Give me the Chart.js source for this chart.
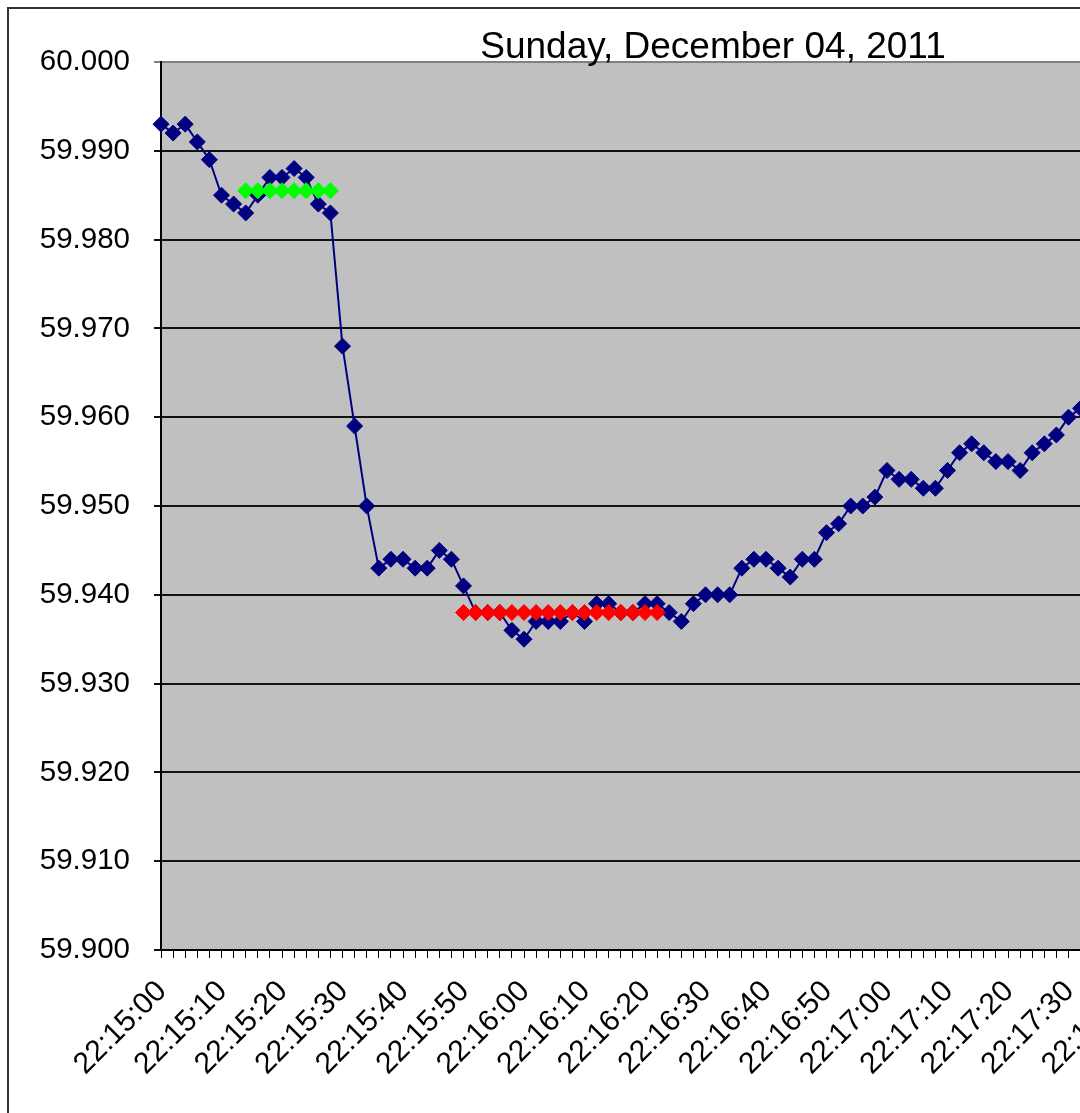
<!DOCTYPE html>
<html>
<head>
<meta charset="utf-8">
<script src="https://cdn.jsdelivr.net/npm/chart.js@4.4.0/dist/chart.umd.min.js"></script>
<style>
html,body{margin:0;padding:0;background:#fff;overflow:hidden;width:1080px;height:1113px;position:relative;}
#frame{position:absolute;left:7px;top:7px;width:1300px;height:1300px;border-left:2px solid #333;border-top:2px solid #333;}
#c{position:absolute;left:0;top:0;}
#title{position:absolute;left:0;width:1426px;top:27px;line-height:37px;text-align:center;font-family:"Liberation Sans",Arial,sans-serif;font-size:37px;color:#000;white-space:nowrap;}
</style>
</head>
<body>
<div id="frame"></div>
<canvas id="c" width="1138" height="1113"></canvas>
<div id="title">Sunday, December 04, 2011</div>
<script>
// Time labels (every 2 seconds)
const timeLabels = [
 "22:15:00","22:15:02","22:15:04","22:15:06","22:15:08","22:15:10","22:15:12","22:15:14","22:15:16","22:15:18",
 "22:15:20","22:15:22","22:15:24","22:15:26","22:15:28","22:15:30","22:15:32","22:15:34","22:15:36","22:15:38",
 "22:15:40","22:15:42","22:15:44","22:15:46","22:15:48","22:15:50","22:15:52","22:15:54","22:15:56","22:15:58",
 "22:16:00","22:16:02","22:16:04","22:16:06","22:16:08","22:16:10","22:16:12","22:16:14","22:16:16","22:16:18",
 "22:16:20","22:16:22","22:16:24","22:16:26","22:16:28","22:16:30","22:16:32","22:16:34","22:16:36","22:16:38",
 "22:16:40","22:16:42","22:16:44","22:16:46","22:16:48","22:16:50","22:16:52","22:16:54","22:16:56","22:16:58",
 "22:17:00","22:17:02","22:17:04","22:17:06","22:17:08","22:17:10","22:17:12","22:17:14","22:17:16","22:17:18",
 "22:17:20","22:17:22","22:17:24","22:17:26","22:17:28","22:17:30","22:17:32","22:17:34","22:17:36","22:17:38",
 "22:17:40"
];

// Measured frequency (Hz)
const frequency = [
 59.993, 59.992, 59.993, 59.991, 59.989, 59.985, 59.984, 59.983, 59.985, 59.987,
 59.987, 59.988, 59.987, 59.984, 59.983, 59.968, 59.959, 59.950, 59.943, 59.944,
 59.944, 59.943, 59.943, 59.945, 59.944, 59.941, 59.938, 59.938, 59.938, 59.936,
 59.935, 59.937, 59.937, 59.937, 59.938, 59.937, 59.939, 59.939, 59.938, 59.938,
 59.939, 59.939, 59.938, 59.937, 59.939, 59.940, 59.940, 59.940, 59.943, 59.944,
 59.944, 59.943, 59.942, 59.944, 59.944, 59.947, 59.948, 59.950, 59.950, 59.951,
 59.954, 59.953, 59.953, 59.952, 59.952, 59.954, 59.956, 59.957, 59.956, 59.955,
 59.955, 59.954, 59.956, 59.957, 59.958, 59.960, 59.961
];

// Pre-event average (Value A), indices 7..14
const valueAStart = 7, valueAEnd = 14;
const valueA = 59.9855;
// Post-event average (Value B), indices 25..41
const valueBStart = 25, valueBEnd = 41;
const valueB = 59.938;

// Y axis ticks
const yMin = 59.900, yMax = 60.000, yStep = 0.010;

const valueASeries = timeLabels.map((_, i) => (i >= valueAStart && i <= valueAEnd) ? valueA : null);
const valueBSeries = timeLabels.map((_, i) => (i >= valueBStart && i <= valueBEnd) ? valueB : null);

const plotBg = {
  id: 'plotBg',
  beforeDraw(chart) {
    const {ctx, chartArea: a} = chart;
    ctx.save();
    ctx.fillStyle = '#c0c0c0';
    ctx.fillRect(a.left, a.top, a.right - a.left, a.bottom - a.top);
    ctx.restore();
  }
};

const font = 'Liberation Sans, Arial, sans-serif';
const markerRadius = 8;

function series(label, data, color, order) {
  return {
    label, data, order,
    borderColor: color,
    backgroundColor: color,
    borderWidth: 2,
    tension: 0,
    pointStyle: 'rectRot',
    pointRadius: markerRadius,
    pointBorderWidth: 1,
    pointBackgroundColor: color,
    pointBorderColor: color,
    spanGaps: false,
    clip: false
  };
}

new Chart(document.getElementById('c'), {
  type: 'line',
  data: {
    labels: timeLabels,
    datasets: [
      series('Value A', valueASeries, '#00ff00', 1),
      series('Value B', valueBSeries, '#ff0000', 1),
      series('Frequency', frequency, '#000080', 2)
    ]
  },
  options: {
    responsive: false,
    animation: false,
    layout: { padding: { top: 62, left: 0, right: 0, bottom: 0 } },
    plugins: {
      legend: { display: false },
      tooltip: { enabled: false },
      title: { display: false }
    },
    scales: {
      x: {
        type: 'category',
        offset: false,
        grid: {
          drawOnChartArea: false,
          drawTicks: true,
          tickLength: 8,
          color: '#000',
          lineWidth: 1
        },
        border: { display: true, color: '#000', width: 2 },
        ticks: {
          autoSkip: false,
          maxRotation: 45,
          minRotation: 45,
          padding: 16,
          labelOffset: 1,
          color: '#000',
          font: { family: font, size: 30 },
          callback: function(v, i) { return i % 5 === 0 ? timeLabels[i] : ''; }
        },
        afterFit(s) { s.height = 163; s.paddingLeft = 0; s.paddingRight = 0; }
      },
      y: {
        min: yMin,
        max: yMax,
        grid: {
          color: (ctx) => (ctx.tick && ctx.tick.value > yMax - yStep / 2) ? '#808080' : '#111',
          lineWidth: 2,
          tickLength: 7,
          drawTicks: true
        },
        border: { display: true, color: '#000', width: 2 },
        ticks: {
          stepSize: yStep,
          padding: 24,
          color: '#000',
          font: { family: font, size: 29.5 },
          callback: (v) => Number(v).toFixed(3)
        },
        afterFit(s) { s.width = 161; s.paddingTop = 0; s.paddingBottom = 0; }
      }
    }
  },
  plugins: [plotBg]
});
</script>
</body>
</html>
